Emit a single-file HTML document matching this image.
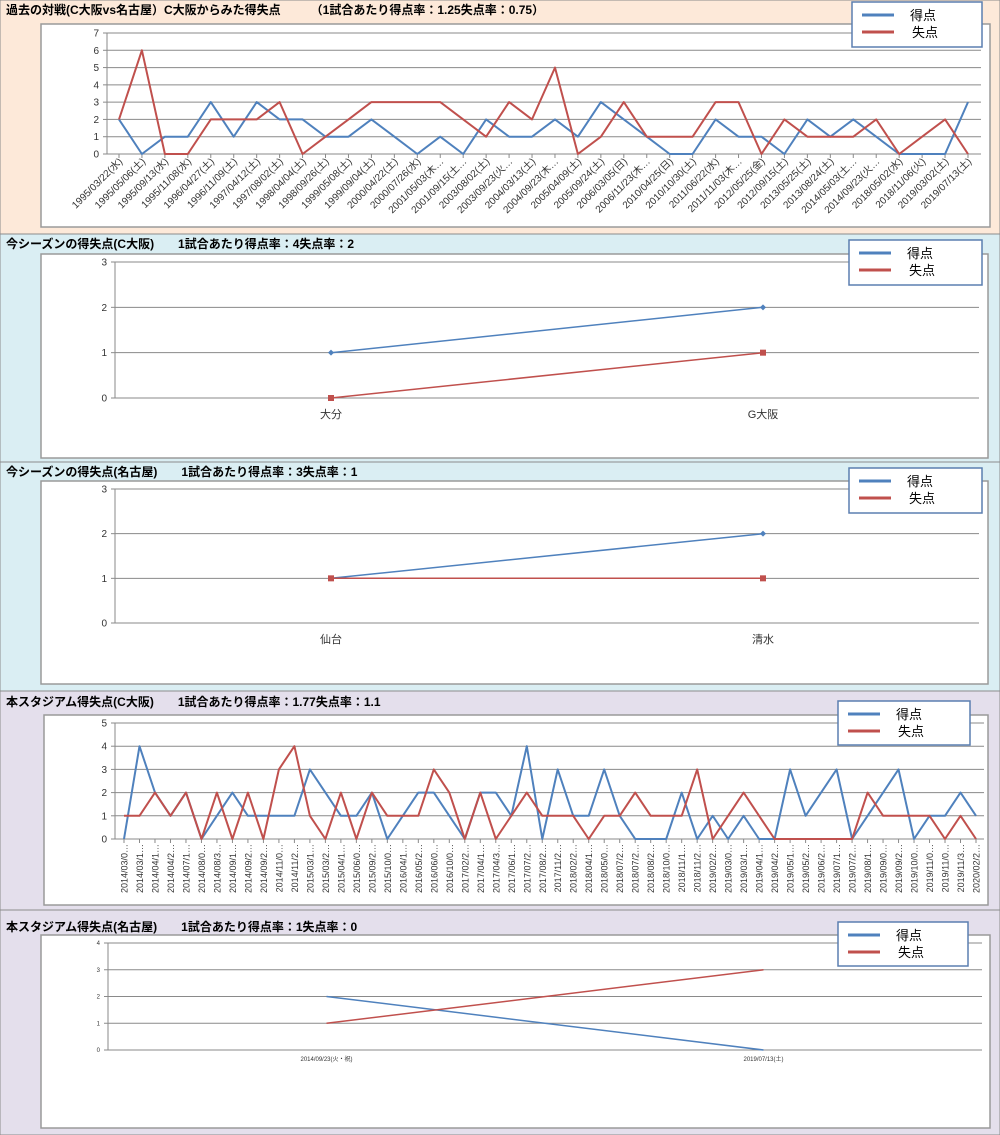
<!DOCTYPE html>
<html><head><meta charset="utf-8">
<style>
html,body{margin:0;padding:0;background:#fff;}
svg{display:block;font-family:"Liberation Sans","Noto Sans CJK JP",sans-serif;}
</style></head>
<body>
<svg id="root" width="1000" height="1135" viewBox="0 0 1000 1135" xmlns="http://www.w3.org/2000/svg">
  <rect x="0" y="0" width="1000" height="234" fill="#fde9d9" stroke="#8c8c8c"/>
  <rect x="0" y="234" width="1000" height="228" fill="#daeef3" stroke="#8c8c8c"/>
  <rect x="0" y="462" width="1000" height="229" fill="#daeef3" stroke="#8c8c8c"/>
  <rect x="0" y="691" width="1000" height="219" fill="#e4dfec" stroke="#8c8c8c"/>
  <rect x="0" y="910" width="1000" height="225" fill="#e4dfec" stroke="#8c8c8c"/>
  <g id="charts"></g>
</svg>
<script>
// ---- Chart 1 data: past matches
const c1Categories = ["1995/03/22(水)","1995/05/06(土)","1995/09/13(水)","1995/11/08(水)","1996/04/27(土)","1996/11/09(土)","1997/04/12(土)","1997/08/02(土)","1998/04/04(土)","1998/09/26(土)","1999/05/08(土)","1999/09/04(土)","2000/04/22(土)","2000/07/26(水)","2001/05/03(木…","2001/09/15(土…","2003/08/02(土)","2003/09/23(火…","2004/03/13(土)","2004/09/23(木…","2005/04/09(土)","2005/09/24(土)","2006/03/05(日)","2006/11/23(木…","2010/04/25(日)","2010/10/30(土)","2011/06/22(水)","2011/11/03(木…","2012/05/25(金)","2012/09/15(土)","2013/05/25(土)","2013/08/24(土)","2014/05/03(土…","2014/09/23(火…","2018/05/02(水)","2018/11/06(火)","2019/03/02(土)","2019/07/13(土)"];
const c1Scored = [2,0,1,1,3,1,3,2,2,1,1,2,1,0,1,0,2,1,1,2,1,3,2,1,0,0,2,1,1,0,2,1,2,1,0,0,0,3];
const c1Conceded = [2,6,0,0,2,2,2,3,0,1,2,3,3,3,3,2,1,3,2,5,0,1,3,1,1,1,3,3,0,2,1,1,1,2,0,1,2,0];
const c1Ticks = ["0","1","2","3","4","5","6","7"];
// ---- Chart 2 data
const c2Categories = ["大分","G大阪"];
const c2Scored = [1,2];
const c2Conceded = [0,1];
const c2Ticks = ["0","1","2","3"];
// ---- Chart 3 data
const c3Categories = ["仙台","清水"];
const c3Scored = [1,2];
const c3Conceded = [1,1];
const c3Ticks = ["0","1","2","3"];
// ---- Chart 4 data
const c4Categories = ["2014/03/0…","2014/03/1…","2014/04/1…","2014/04/2…","2014/07/1…","2014/08/0…","2014/08/3…","2014/09/1…","2014/09/2…","2014/09/2…","2014/11/0…","2014/11/2…","2015/03/1…","2015/03/2…","2015/04/1…","2015/06/0…","2015/09/2…","2015/10/0…","2016/04/1…","2016/05/2…","2016/06/0…","2016/10/0…","2017/02/2…","2017/04/1…","2017/04/3…","2017/06/1…","2017/07/2…","2017/08/2…","2017/11/2…","2018/02/2…","2018/04/1…","2018/05/0…","2018/07/2…","2018/07/2…","2018/08/2…","2018/10/0…","2018/11/1…","2018/11/2…","2019/02/2…","2019/03/0…","2019/03/1…","2019/04/1…","2019/04/2…","2019/05/1…","2019/05/2…","2019/06/2…","2019/07/1…","2019/07/2…","2019/08/1…","2019/09/0…","2019/09/2…","2019/10/0…","2019/11/0…","2019/11/0…","2019/11/3…","2020/02/2…"];
const c4Scored = [0,4,2,1,2,0,1,2,1,1,1,1,3,2,1,1,2,0,1,2,2,1,0,2,2,1,4,0,3,1,1,3,1,0,0,0,2,0,1,0,1,0,0,3,1,2,3,0,1,2,3,0,1,1,2,1];
const c4Conceded = [1,1,2,1,2,0,2,0,2,0,3,4,1,0,2,0,2,1,1,1,3,2,0,2,0,1,2,1,1,1,0,1,1,2,1,1,1,3,0,1,2,1,0,0,0,0,0,0,2,1,1,1,1,0,1,0];
const c4Ticks = ["0","1","2","3","4","5"];
// ---- Chart 5 data
const c5Categories = ["2014/09/23(火・祝)","2019/07/13(土)"];
const c5Scored = [2,0];
const c5Conceded = [1,3];
const c5Ticks = ["0","1","2","3","4"];

const BLUE="#4f81bd", RED="#c0504d", NS="http://www.w3.org/2000/svg";
const root=document.getElementById('charts');
function mk(tag,attrs,parent){const e=document.createElementNS(NS,tag);for(const k in attrs)e.setAttribute(k,attrs[k]);(parent||root).appendChild(e);return e;}

function drawChart(o){
  const g=mk('g',{});
  
  
  const t=mk('text',{x:6,y:o.titleY,'font-size':12,'font-weight':'bold',fill:'#000'},g);
  t.textContent=o.title;
  
  
  const box=mk('rect',{x:o.box[0],y:o.box[1],width:o.box[2],height:o.box[3],fill:'#fff',stroke:'#9a9a9a','stroke-width':1.5},g);
  
  
  const n=o.ticks.length-1;
  const yS=v=>o.y0+(o.yTop-o.y0)*v/n;
  const cnt=o.cats.length;
  const xS=o.centered?(i=>o.xL+(o.xR-o.xL)*(i+0.5)/cnt):(i=>o.x0+(o.x1-o.x0)*i/(cnt-1));
  o.ticks.forEach((lab,i)=>{
    const y=yS(i);
    const ln=mk('line',{x1:o.xL,x2:o.xR,y1:y,y2:y,stroke:'#8a8a8a','stroke-width':1},g);
    
    
    mk('line',{x1:o.xL-4,x2:o.xL,y1:y,y2:y,stroke:'#8a8a8a'},g);
    const tx=mk('text',{x:o.xL-8,y:y+o.yFs*0.35,'font-size':o.yFs,'text-anchor':'end',fill:'#333'},g);
    tx.textContent=lab;
    
    
  });
  mk('line',{x1:o.xL,x2:o.xL,y1:o.yTop,y2:o.y0,stroke:'#8a8a8a'},g);
  o.cats.forEach((c,i)=>{
    const x=xS(i);
    if(!o.centered) mk('line',{x1:x,x2:x,y1:o.y0,y2:o.y0+4,stroke:'#8a8a8a'},g);
    let tx;
    if(o.rot===-45){tx=mk('text',{x:0,y:0,'font-size':o.xFs,'text-anchor':'end',fill:'#333',transform:`translate(${x+4},${o.y0+8}) rotate(-45)`},g);}
    else if(o.rot===-90){tx=mk('text',{x:0,y:0,'font-size':o.xFs,'text-anchor':'end',fill:'#333',transform:`translate(${x+3.5},${o.y0+5}) rotate(-90)`},g);}
    else{tx=mk('text',{x:x,y:o.y0+o.labDy,'font-size':o.xFs,'text-anchor':'middle',fill:'#333'},g);}
    tx.textContent=c;
    
    
  });
  [[o.scored,BLUE,'series-scored','diamond'],[o.conceded,RED,'series-conceded','square']].forEach(([d,col,nm,mt])=>{
    const pts=d.map((v,i)=>xS(i).toFixed(1)+','+yS(v).toFixed(1)).join(' ');
    const pl=mk('polyline',{points:pts,fill:'none',stroke:col,'stroke-width':o.lw,'stroke-linejoin':'round'},g);
    
    
    if(o.markers){d.forEach((v,i)=>{
      const x=xS(i),y=yS(v);let m;
      if(mt==='diamond') m=mk('polygon',{points:`${x},${y-3} ${x+3},${y} ${x},${y+3} ${x-3},${y}`,fill:col},g);
      else m=mk('rect',{x:x-3,y:y-3,width:6,height:6,fill:col},g);
      
      
    });}
  });
  const L=o.legend;
  const lg=mk('g',{},g);
  
  
  mk('rect',{x:L[0],y:L[1],width:L[2],height:L[3],fill:'#fff',stroke:'#5b7fb0','stroke-width':1.5},lg);
  [['得点',BLUE],['失点',RED]].forEach(([lab,col],k)=>{
    const yy=L[1]+13+k*17;
    mk('line',{x1:L[0]+10,x2:L[0]+42,y1:yy,y2:yy,stroke:col,'stroke-width':3},lg);
    const tx=mk('text',{x:L[0]+58+k*2,y:yy+5,'font-size':13,fill:'#000'},lg);
    tx.textContent=lab;
    
    
  });
}

drawChart({name:'history-chart',title:'過去の対戦(C大阪vs名古屋）C大阪からみた得失点　　　（1試合あたり得点率：1.25失点率：0.75）',titleY:14,
  box:[41,24,949,203],xL:107,xR:981,yTop:33,y0:154,x0:119,x1:968,cats:c1Categories,scored:c1Scored,conceded:c1Conceded,ticks:c1Ticks,
  rot:-45,xFs:10,yFs:10,lw:2,legend:[852,2,130,45]});
drawChart({name:'season-osaka-chart',title:'今シーズンの得失点(C大阪)　　1試合あたり得点率：4失点率：2',titleY:248,
  box:[41,254,947,204],xL:115,xR:979,yTop:262,y0:398,centered:true,cats:c2Categories,scored:c2Scored,conceded:c2Conceded,ticks:c2Ticks,
  labDy:20,xFs:11,yFs:10,lw:1.5,markers:true,legend:[849,240,133,45]});
drawChart({name:'season-nagoya-chart',title:'今シーズンの得失点(名古屋)　　1試合あたり得点率：3失点率：1',titleY:476,
  box:[41,481,947,203],xL:115,xR:979,yTop:489,y0:623,centered:true,cats:c3Categories,scored:c3Scored,conceded:c3Conceded,ticks:c3Ticks,
  labDy:20,xFs:11,yFs:10,lw:1.5,markers:true,legend:[849,468,133,45]});
drawChart({name:'stadium-osaka-chart',title:'本スタジアム得失点(C大阪)　　1試合あたり得点率：1.77失点率：1.1',titleY:706,
  box:[44,715,944,190],xL:115,xR:984,yTop:723,y0:839,x0:124,x1:976,cats:c4Categories,scored:c4Scored,conceded:c4Conceded,ticks:c4Ticks,
  rot:-90,xFs:9,yFs:10,lw:2,legend:[838,701,132,44]});
drawChart({name:'stadium-nagoya-chart',title:'本スタジアム得失点(名古屋)　　1試合あたり得点率：1失点率：0',titleY:931,
  box:[41,935,949,193],xL:108,xR:982,yTop:943,y0:1050,centered:true,cats:c5Categories,scored:c5Scored,conceded:c5Conceded,ticks:c5Ticks,
  labDy:11,xFs:6,yFs:6,lw:1.5,legend:[838,922,130,44]});
</script>
</body></html>
